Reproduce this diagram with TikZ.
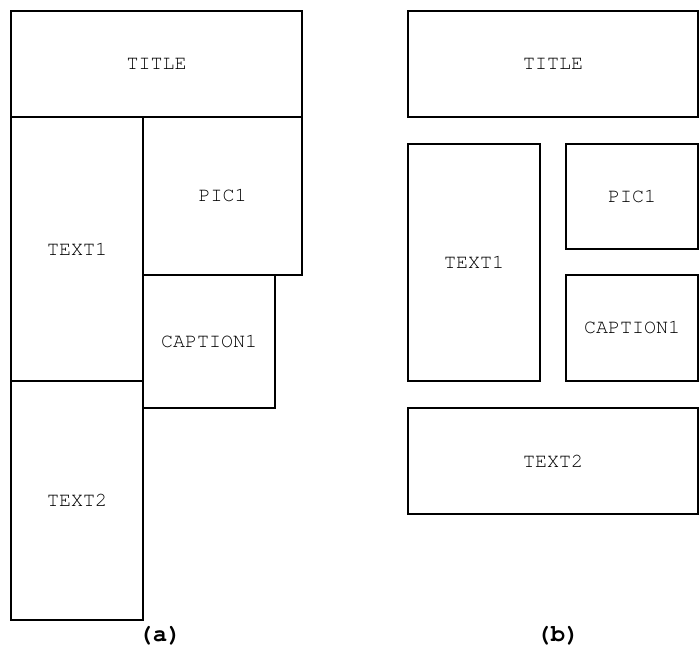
\documentclass[tikz,border=0pt]{standalone}
\usepackage{fontspec}
\setmonofont{TeX Gyre Cursor}
\begin{document}
\begin{tikzpicture}[x=1pt,y=-1pt,
  blk/.style={draw=black,line width=2.2pt,fill=none,inner sep=0pt,font=\ttfamily\fontsize{20}{22}\selectfont},
  sublbl/.style={font=\ttfamily\bfseries\fontsize{24}{26}\selectfont}]
\useasboundingbox (0,0) rectangle (699,650);
% (a)
\node[blk,minimum width=291pt,minimum height=106pt] (aT) at (156.5,64) {TITLE};
\node[blk,minimum width=132pt,minimum height=264pt] (aT1) at (77,249) {TEXT1};
\node[blk,minimum width=159pt,minimum height=158pt] (aP) at (222.5,196) {PIC1};
\node[blk,minimum width=132pt,minimum height=133pt] (aC) at (209,341.5) {CAPTION1};
\node[blk,minimum width=132pt,minimum height=239pt] (aT2) at (77,500.5) {TEXT2};
\node[sublbl] (la) at (160,636) {(a)};
% (b)
\node[blk,minimum width=290pt,minimum height=106pt] (bT) at (553,64) {TITLE};
\node[blk,minimum width=132pt,minimum height=237pt] (bT1) at (474,262.5) {TEXT1};
\node[blk,minimum width=132pt,minimum height=105pt] (bP) at (632,196.5) {PIC1};
\node[blk,minimum width=132pt,minimum height=106pt] (bC) at (632,328) {CAPTION1};
\node[blk,minimum width=290pt,minimum height=106pt] (bT2) at (553,461) {TEXT2};
\node[sublbl] (lb) at (558,636) {(b)};
\end{tikzpicture}
\end{document}
